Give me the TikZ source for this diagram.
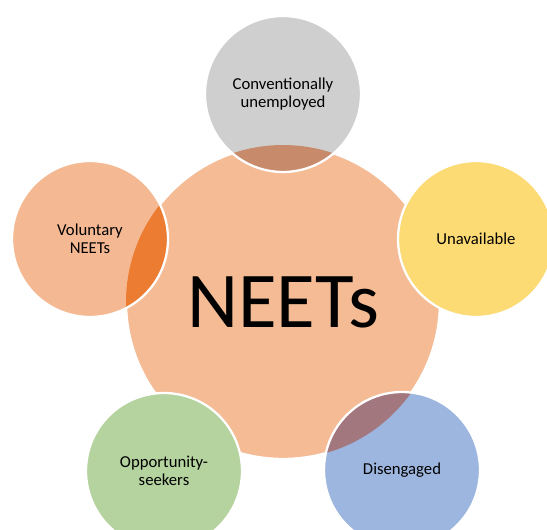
\documentclass[tikz,border=0pt]{standalone}
\usepackage{fontspec}
\setmainfont{Carlito}
\definecolor{neetpeach}{HTML}{F4BB95}
\definecolor{convgray}{HTML}{CFCFCF}
\definecolor{convover}{HTML}{C78B6B}
\definecolor{unavyellow}{HTML}{FCDA74}
\definecolor{volpeach}{HTML}{F4B992}
\definecolor{volover}{HTML}{EC7C32}
\definecolor{oppgreen}{HTML}{B4D39F}
\definecolor{disblue}{HTML}{9DB6DF}
\definecolor{disover}{HTML}{A3777E}
\begin{document}
\begin{tikzpicture}[x=0.02cm,y=-0.02cm,
  ring/.style={circle,inner sep=0pt,minimum size=3.12cm,align=center,
    font=\fontsize{9.5}{10.5}\selectfont},
  rim/.style={draw=white,line width=1.3pt}]
\useasboundingbox (0,0) rectangle (547,530);
% big circle in the middle
\node[circle,fill=neetpeach,rim,inner sep=0pt,minimum size=6.28cm,
  font=\fontsize{45}{50}\selectfont] (neets) at (283,302) {NEETs};
% the five groups
\node[ring,fill=convgray] (conv) at (283,94) {Conventionally\\unemployed};
\node[ring,fill=unavyellow] (unav) at (476,239) {Unavailable};
\node[ring,fill=disblue] (dis) at (402,470) {Disengaged};
\node[ring,fill=oppgreen] (opp) at (164,471) {Opportunity-\\seekers};
\node[ring,fill=volpeach] (vol) at (90,239) {Voluntary\\NEETs};
% overlaps with the big circle
\begin{scope}
\clip (neets.center) circle[radius=3.14cm];
\fill[convover] (conv.center) circle[radius=1.56cm];
\fill[volover] (vol.center) circle[radius=1.56cm];
\fill[disover] (dis.center) circle[radius=1.56cm];
\end{scope}
\foreach \c in {conv,unav,dis,opp,vol}
  \draw[rim] (\c.center) circle[radius=1.56cm];
\end{tikzpicture}
\end{document}
